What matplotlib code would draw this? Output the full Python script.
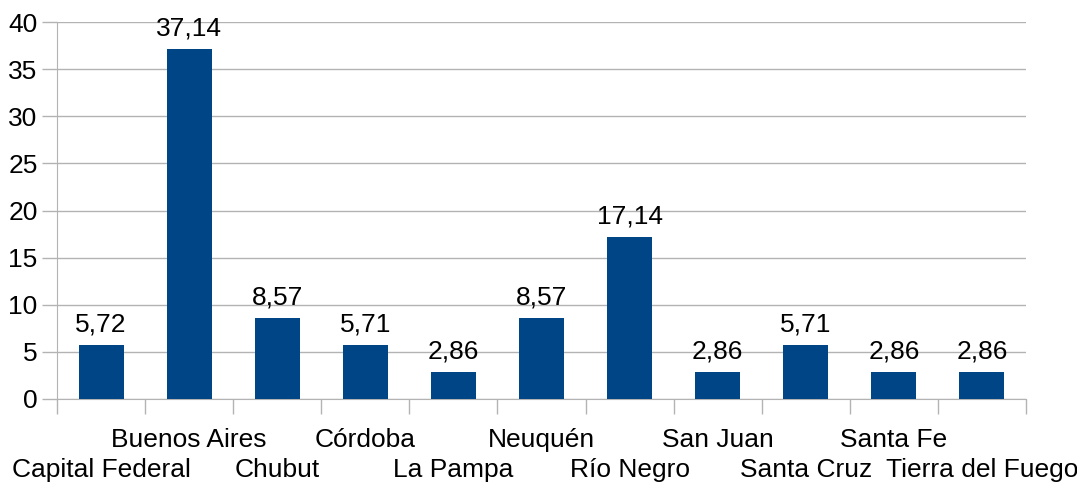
import matplotlib.pyplot as plt
import matplotlib.transforms as mtransforms
import numpy as np

plt.rcParams['font.family'] = ['Liberation Sans', 'DejaVu Sans']

provincias = ["Capital Federal", "Buenos Aires", "Chubut", "Córdoba", "La Pampa",
              "Neuquén", "Río Negro", "San Juan", "Santa Cruz", "Santa Fe",
              "Tierra del Fuego"]
valores = [5.72, 37.14, 8.57, 5.71, 2.86, 8.57, 17.14, 2.86, 5.71, 2.86, 2.86]
yticks = [0, 5, 10, 15, 20, 25, 30, 35, 40]

fig = plt.figure(figsize=(10.77, 4.82), dpi=100)
ax = fig.add_axes([57/1077, 1 - 399/482, (1026 - 57)/1077, (399 - 22)/482])

x = np.arange(len(provincias))
ax.bar(x, valores, width=0.51, color='#004586', zorder=3)

for xi, v in zip(x, valores):
    ax.text(xi, v + 0.95, f"{v:.2f}".replace('.', ','), ha='center', va='bottom',
            fontsize=19)

ax.set_xlim(-0.5, len(provincias) - 0.5)
ax.set_ylim(0, 40)
ax.set_yticks(yticks)
ax.yaxis.grid(True, color='#b3b3b3', linewidth=1, zorder=0)

# etiquetas escalonadas en dos filas
ax.set_xticks(x)
ax.set_xticklabels(provincias, fontsize=19)
ax.tick_params(axis='x', which='major', length=0, pad=21)
desplazar = mtransforms.ScaledTranslation(0, -30/100, fig.dpi_scale_trans)
for i, lab in enumerate(ax.get_xticklabels()):
    if i % 2 == 0:
        lab.set_transform(lab.get_transform() + desplazar)

ax.set_xticks(np.arange(-0.5, len(provincias)), minor=True)
ax.tick_params(axis='x', which='minor', length=11, color='#b3b3b3', width=1)
ax.tick_params(axis='y', length=11, color='#b3b3b3', width=1, labelsize=19, pad=3)

for s in ['top', 'right']:
    ax.spines[s].set_visible(False)
for s in ['left', 'bottom']:
    ax.spines[s].set_color('#b3b3b3')

fig.savefig('out.png', dpi=100)
